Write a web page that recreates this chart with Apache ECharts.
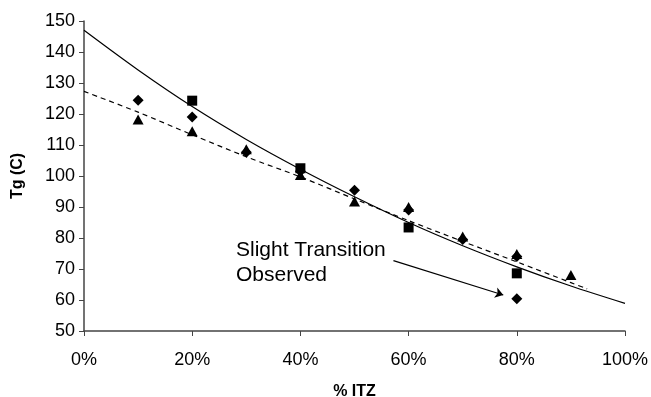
<!DOCTYPE html>
<html>
<head><meta charset="utf-8"></head>
<script type="text/javascript" src="https://cdn.jsdelivr.net/npm/echarts@6/dist/echarts.min.js"></script>
<body style="margin:0;background:#fff;">
    <div id="main" style="width:651px;height:397px;"></div>
</body>
<script type="text/javascript">
// fitted curves, x in % ITZ
var solidX = [0, 10, 20, 30, 40, 50, 60, 70, 80, 90, 100]
var solidY = [147, 134.2, 122.4, 111.8, 102.2, 93.3, 85.0, 77.5, 70.7, 64.5, 58.9]
var dashX = [0, 10, 20, 30, 40, 50, 60, 70, 80, 90, 93]
var dashY = [127.3, 120.6, 113.3, 106.2, 99.7, 92.6, 85.6, 78.9, 72.3, 65.6, 63.6]

// measured points
var diamondX = [10, 20, 30, 40, 50, 60, 70, 80, 80]
var diamondY = [124.4, 119, 107.7, 101.5, 95.4, 89, 79.5, 74, 60.4]
var squareX = [20, 40, 60, 80]
var squareY = [124.3, 102.5, 83.4, 68.6]
var triX = [10, 20, 30, 40, 50, 60, 70, 80, 90]
var triY = [118.2, 114.4, 108.6, 100.3, 91.8, 90, 80.5, 74.8, 68.1]

// annotation arrow
var arrowFrom = [57.2, 72.7]
var arrowTo = [77.5, 61.6]
var note = 'Slight Transition\nObserved'

function pairs(xs, ys) {
    var out = []
    for (var i = 0; i < xs.length; i++) out.push([xs[i], ys[i]])
    return out
}

var font = 'Liberation Sans'
var myChart = echarts.init(document.getElementById('main'))

var option = {
    animation: false,
    grid: {left: 84, right: 26, top: 21, bottom: 66, containLabel: false, outerBoundsMode: 'none'},
    xAxis: {
        type: 'value', min: 0, max: 100, interval: 20,
        name: '% ITZ', nameLocation: 'middle', nameGap: 53,
        nameTextStyle: {fontFamily: font, fontWeight: 'bold', fontSize: 16, color: '#000'},
        axisLine: {lineStyle: {color: '#444', width: 1.5}},
        axisTick: {show: true, length: 5, lineStyle: {color: '#444'}},
        axisLabel: {formatter: '{value}%', margin: 20, fontFamily: font, fontSize: 18, color: '#000'},
        splitLine: {show: false}
    },
    yAxis: {
        type: 'value', min: 50, max: 150, interval: 10,
        name: 'Tg (C)', nameLocation: 'middle', nameGap: 58, nameRotate: 90,
        nameTextStyle: {fontFamily: font, fontWeight: 'bold', fontSize: 16, color: '#000'},
        axisLine: {show: true, lineStyle: {color: '#444', width: 1.5}},
        axisTick: {show: true, length: 5, lineStyle: {color: '#444'}},
        axisLabel: {margin: 9, fontFamily: font, fontSize: 18, color: '#000'},
        splitLine: {show: false}
    },
    series: [
        {
            type: 'line', data: pairs(solidX, solidY), smooth: 0.3, symbol: 'none',
            lineStyle: {color: '#000', width: 1.2}, z: 2
        },
        {
            type: 'line', data: pairs(dashX, dashY), smooth: 0.3, symbol: 'none',
            lineStyle: {color: '#000', width: 1.2, type: [5, 4]}, z: 2
        },
        {
            type: 'scatter', data: pairs(triX, triY), symbol: 'triangle', symbolSize: [11, 10],
            itemStyle: {color: '#000', opacity: 1}, z: 3
        },
        {
            type: 'scatter', data: pairs(diamondX, diamondY), symbol: 'diamond', symbolSize: [11, 11],
            itemStyle: {color: '#000', opacity: 1}, z: 4
        },
        {
            type: 'scatter', data: pairs(squareX, squareY), symbol: 'rect', symbolSize: 10,
            itemStyle: {color: '#000', opacity: 1}, z: 5,
            markLine: {
                silent: true, symbol: ['none', 'arrow'], symbolSize: 8,
                label: {show: false},
                lineStyle: {color: '#000', width: 1.2, type: 'solid', opacity: 1},
                data: [[{coord: arrowFrom}, {coord: arrowTo}]]
            }
        }
    ],
    graphic: [{
        type: 'text', left: 236, top: 238,
        style: {text: note, font: '21px Liberation Sans', lineHeight: 25, fill: '#000'}
    }]
}
myChart.setOption(option)
</script>
</html>
